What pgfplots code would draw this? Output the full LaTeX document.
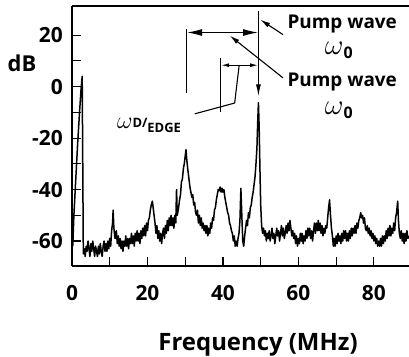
\RequirePackage{fix-cm}
\documentclass[border=0pt]{standalone}
\usepackage{pgfplots}
\pgfplotsset{compat=1.18}
\usetikzlibrary{arrows.meta}
\usepackage{fontspec}
\setmainfont{Open Sans}

\pgfplotstableread{
f db
0.2 -62
0.5 -50
1.0 -36
1.5 -22
2.0 -10
2.4 -1
2.7 4
2.85 -30
3.0 -65
3.25 -63
3.5 -66
3.75 -62
4.0 -64
4.25 -60
4.5 -63
4.75 -66
5.0 -61
5.25 -64
5.5 -60
5.75 -63
6.0 -66
6.25 -62
6.5 -64
6.75 -66
7.0 -62
7.25 -65
7.5 -61
7.75 -64
8.0 -66
8.25 -62
8.5 -60
8.75 -64
9.0 -61
9.25 -64
9.5 -60
9.75 -63
10.0 -59
10.25 -62
10.5 -56
10.75 -53
10.9 -48
11.1 -55
11.4 -59
11.75 -56
12.0 -61
12.25 -58
12.5 -62
12.75 -59
13.0 -63
13.25 -60
13.5 -64
13.75 -60
14.0 -62
14.25 -58
14.5 -62
14.75 -59
15.0 -63
15.25 -59
15.5 -61
15.75 -57
16.0 -61
16.25 -58
16.5 -62
16.75 -57
17.0 -60
17.25 -56
17.5 -60
17.75 -57
18.0 -61
18.25 -56
18.5 -59
18.75 -55
19.0 -58
19.25 -54
19.5 -58
19.75 -53
20.0 -56
20.25 -52
20.5 -51
20.75 -48
21.0 -46
21.3 -44.5
21.5 -47
21.75 -50
22.0 -53
22.25 -57
22.5 -54
22.75 -59
23.0 -56
23.25 -60
23.5 -57
23.75 -61
24.0 -57
24.25 -55
24.5 -59
24.75 -54
25.0 -57
25.25 -52
25.5 -56
25.75 -51
26.0 -54
26.25 -50
26.5 -54
26.75 -51
27.0 -55
27.25 -50
27.5 -53
27.7 -40
27.9 -50
28.25 -47
28.5 -44
28.75 -42
29.0 -37
29.25 -36
29.5 -32
29.75 -30
30.0 -27
30.2 -24.5
30.45 -29
30.75 -33
31.0 -36
31.25 -39
31.5 -41
31.75 -43
32.0 -42
32.25 -46
32.5 -45
32.75 -49
33.0 -50
33.25 -48
33.5 -53
33.75 -50
34.0 -54
34.25 -51
34.5 -55
34.75 -53
35.0 -56
35.25 -54
35.5 -57
35.75 -54
36.0 -58
36.25 -55
36.5 -57
36.75 -53
37.0 -55
37.25 -51
37.5 -52
37.75 -48
38.0 -47
38.25 -44
38.5 -42
38.75 -40
39.0 -40.5
39.25 -39
39.5 -41
39.75 -39.5
40.0 -41
40.25 -40
40.5 -43
40.75 -45
41.0 -47
41.25 -49
41.5 -50
41.75 -53
42.0 -54
42.25 -56
42.5 -57
42.75 -60
43.0 -58
43.25 -62
43.5 -60
43.75 -62
44.0 -59
44.25 -57
44.5 -52
44.75 -39.5
45.0 -50
45.25 -60
45.5 -62
45.75 -58
46.0 -55
46.25 -52
46.5 -54
46.75 -49
47.0 -51
47.25 -47
47.5 -46
47.75 -43
48.0 -41
48.25 -38
48.5 -35
48.75 -30
49.0 -24
49.2 -14
49.4 -6.3
49.6 -16
49.8 -32
50.0 -46
50.25 -54
50.5 -57
50.75 -55
51.0 -58
51.25 -56
51.5 -60
51.75 -57
52.0 -59
52.25 -56
52.5 -60
52.75 -58
53.0 -55
53.25 -59
53.5 -57
53.75 -61
54.0 -58
54.25 -55
54.5 -58
54.75 -56
55.0 -60
55.25 -57
55.5 -54
55.75 -58
56.0 -55
56.25 -59
56.5 -57
56.75 -54
57.0 -57
57.25 -53
57.5 -56
57.75 -52
58.0 -55
58.25 -58
58.5 -56
58.75 -59
59.0 -57
59.25 -61
59.5 -58
59.75 -62
60.0 -59
60.25 -61
60.5 -57
60.75 -60
61.0 -57
61.25 -61
61.5 -58
61.75 -60
62.0 -56
62.25 -59
62.5 -55
62.75 -58
63.0 -55
63.25 -59
63.5 -56
63.75 -60
64.0 -56
64.25 -53
64.5 -57
64.75 -53
65.0 -56
65.25 -52
65.5 -56
65.75 -53
66.0 -57
66.25 -54
66.5 -58
66.75 -55
67.0 -57
67.25 -54
67.5 -55
67.75 -51
68.0 -47
68.25 -44
68.5 -50
68.75 -55
69.0 -58
69.25 -62
69.5 -59
69.75 -62
70.0 -58
70.25 -61
70.5 -57
70.75 -60
71.0 -58
71.25 -61
71.5 -57
71.75 -60
72.0 -56
72.25 -59
72.5 -56
72.75 -60
73.0 -57
73.25 -60
73.5 -56
73.75 -59
74.0 -55
74.25 -58
74.5 -55
74.75 -57
75.0 -54
75.25 -57
75.5 -53
75.75 -55
76.0 -52
76.25 -51
76.5 -49
76.75 -51
77.0 -50
77.25 -53
77.5 -51
77.75 -55
78.0 -56
78.25 -54
78.5 -57
78.75 -55
79.0 -58
79.25 -56
79.5 -59
79.75 -57
80.0 -60
80.25 -58
80.5 -61
80.75 -59
81.0 -62
81.25 -60
81.5 -62
81.75 -59
82.0 -62
82.25 -58
82.5 -61
82.75 -58
83.0 -60
83.25 -56
83.5 -59
83.75 -55
84.0 -58
84.25 -54
84.5 -58
84.75 -55
85.0 -57
85.25 -53
85.5 -56
85.75 -51
86.0 -49
86.3 -44.5
86.5 -52
86.75 -57
87.0 -59
87.25 -56
87.5 -60
87.75 -57
88.0 -61
88.25 -57
88.5 -60
88.75 -56
89.0 -59
89.3 -58
}\spec

\begin{document}
\bfseries
\begin{tikzpicture}
\begin{axis}[
  at={(0,0)}, anchor=south west,
  width=337bp, height=260bp, scale only axis,
  xmin=0, xmax=89.3, ymin=-69.7, ymax=31.3,
  axis x line*=box, axis y line*=left,
  xtick pos=left, ytick pos=left,
  tick align=inside,
  xtick={0,20,40,60,80}, xticklabels={0,20,40,60,80},
  minor xtick={10,30,50,70},
  ytick={-60,-40,-20,0,20}, yticklabels={-60,-40,-20,0,20},
  minor ytick={-50,-30,-10,10},
  major tick length=9bp, minor tick length=9bp,
  every tick/.style={black, line width=1.1bp},
  axis line style={black, line width=1.3bp},
  tick label style={font=\bfseries\fontsize{21}{21}\selectfont},
  xticklabel style={anchor=north, inner sep=0pt, yshift=-19bp},
  yticklabel style={anchor=east, inner sep=0pt, xshift=-9bp},
  xlabel={Frequency (MHz)},
  xlabel style={at={(axis cs:49.3,-69.7)}, anchor=center, yshift=-79bp, font=\bfseries\fontsize{24}{24}\selectfont},
  clip=false,
]
\addplot[black, line width=1.5bp, line join=round] table[x=f, y=db] {\spec};

\node[font=\bfseries\fontsize{22}{22}\selectfont] at (axis cs:0,9.1) [xshift=-50bp] {dB};

% annotation lines
\draw[line width=1.1bp] (axis cs:30.3,22.2) -- (axis cs:30.3,-2.4);
\draw[line width=1.1bp, -{Latex[length=12bp,width=5bp]}] (axis cs:49.4,29.3) -- (axis cs:49.4,-3.8);
\draw[line width=1.1bp, {Latex[length=15bp,width=7bp]}-{Latex[length=15bp,width=7bp]}] (axis cs:30.5,21) -- (axis cs:49.3,21);
\draw[line width=1.1bp] (axis cs:39.3,11.2) -- (axis cs:39.3,-10);
\draw[line width=1.1bp, {Latex[length=8bp,width=4bp]}-{Latex[length=8bp,width=4bp]}] (axis cs:39.5,8.3) -- (axis cs:49.3,8.3);
\draw[line width=1.1bp] (axis cs:32.5,-10.6) -- (axis cs:43.1,-6.4) -- (axis cs:44.3,8.3);
\draw[line width=1.1bp, -{Latex[length=10bp,width=5bp]}] (axis cs:55.9,20.2) -- (axis cs:49.9,26);
\draw[line width=1.1bp, -{Latex[length=10bp,width=5bp]}] (axis cs:55.9,3.4) -- (axis cs:41.8,19.8);

\node[anchor=base, inner sep=0pt, font=\bfseries\fontsize{19}{19}\selectfont] at (axis cs:71.6,22.7) {Pump wave};
\node[anchor=base, inner sep=0pt] at (axis cs:70.7,12.6) {\fontsize{29}{29}\selectfont$\omega$\raisebox{-4bp}{\bfseries\fontsize{16}{16}\selectfont 0}};
\node[anchor=base, inner sep=0pt, font=\bfseries\fontsize{19}{19}\selectfont] at (axis cs:71.6,0.0) {Pump wave};
\node[anchor=base, inner sep=0pt] at (axis cs:70.7,-10.9) {\fontsize{29}{29}\selectfont$\omega$\raisebox{-4bp}{\bfseries\fontsize{16}{16}\selectfont 0}};
\node[anchor=base west, inner sep=0pt] at (axis cs:11.9,-16.1) {\fontsize{24}{24}\selectfont$\omega$\bfseries\fontsize{13}{13}\selectfont\raisebox{0.5bp}{D/}\raisebox{-4bp}{EDGE}};
\end{axis}
\pgfresetboundingbox
\useasboundingbox (-72bp,-91bp) rectangle (337bp,266bp);
\end{tikzpicture}
\end{document}
